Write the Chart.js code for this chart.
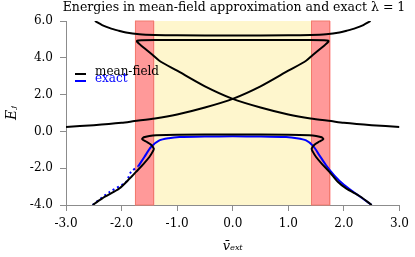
<!DOCTYPE html>
<html>
<head>
<meta charset="utf-8">
<script src="https://cdn.jsdelivr.net/npm/chart.js@4.4.1/dist/chart.umd.min.js"></script>
<style>
    html, body { margin: 0; padding: 0; background: #fff; }
    #wrap { width: 415px; height: 257px; }
</style>
</head>
<body>
<div id="wrap"><canvas id="energyChart" width="415" height="257"></canvas></div>
<script>
// axis ranges / ticks
const xRange = [-3, 3];
const yRange = [-4, 6];
const xStep = 1;
const yStep = 2;

// shaded regions (in v_ext units)
const redBands = [[-1.76, -1.41], [1.41, 1.76]];
const yellowBand = [-1.41, 1.41];

// mean-field: top outer branch
const mfTopX = [-2.48, -2.35, -2.21, -2.05, -1.92, -1.68, -1.4, -1.0, 0, 1.0, 1.4, 1.68, 1.92, 2.05, 2.21, 2.35, 2.48];
const mfTopY = [6.0, 5.78, 5.61, 5.47, 5.37, 5.28, 5.24, 5.22, 5.21, 5.22, 5.24, 5.28, 5.37, 5.47, 5.61, 5.78, 6.0];

// mean-field: crossing branch with the upper swallowtail loop
const mfCrossX = [-3.0, -2.5, -2.0, -1.77, -1.4, -1.0, -0.5, 0, 0.5, 1.0, 1.32, 1.44, 1.56, 1.66, 1.72, 1.72, 1.65, 1.4, 0, -1.4, -1.65, -1.72, -1.72, -1.66, -1.56, -1.44, -1.32, -1.0, -0.5, 0, 0.5, 1.0, 1.4, 1.77, 2.0, 2.5, 3.0];
const mfCrossY = [0.24, 0.34, 0.47, 0.56, 0.7, 0.92, 1.3, 1.77, 2.45, 3.3, 3.84, 4.15, 4.45, 4.7, 4.86, 4.93, 4.96, 4.97, 4.97, 4.97, 4.96, 4.93, 4.86, 4.7, 4.45, 4.15, 3.84, 3.3, 2.45, 1.77, 1.3, 0.92, 0.7, 0.56, 0.47, 0.34, 0.24];

// mean-field: lower branch with the two folds
const mfLowX = [-2.52, -2.3, -2.04, -1.85, -1.74, -1.6, -1.5, -1.44, -1.42, -1.47, -1.56, -1.63, -1.6, -1.5, -1.38, -1.0, 0, 1.0, 1.38, 1.5, 1.6, 1.63, 1.56, 1.47, 1.42, 1.44, 1.5, 1.6, 1.74, 1.89, 2.04, 2.3, 2.5];
const mfLowY = [-4.0, -3.55, -3.1, -2.55, -2.2, -1.75, -1.39, -1.1, -0.94, -0.72, -0.55, -0.42, -0.32, -0.25, -0.21, -0.18, -0.17, -0.18, -0.21, -0.25, -0.32, -0.42, -0.55, -0.72, -0.94, -1.1, -1.39, -1.75, -2.2, -2.74, -3.1, -3.55, -4.0];

// exact: solid part and the dotted stretch on the left
const exactX = [-1.7, -1.59, -1.47, -1.32, -1.15, -0.96, -0.5, 0, 0.5, 0.96, 1.15, 1.32, 1.45, 1.56, 1.68, 1.83, 2.0, 2.2, 2.5];
const exactY = [-1.9, -1.39, -0.85, -0.49, -0.37, -0.31, -0.28, -0.27, -0.28, -0.31, -0.37, -0.49, -0.8, -1.3, -1.84, -2.4, -2.9, -3.35, -4.0];
const exactDotX = [-2.52, -2.45, -2.21, -1.92, -1.83, -1.7];
const exactDotY = [-4.0, -3.82, -3.28, -2.75, -2.2, -1.9];

// legend entries
const legendLabels = ['mean-field', 'exact'];
const legendColors = ['#000000', '#0000ff'];

const titleText = 'Energies in mean-field approximation and exact \u03bb = 1';
const serif = '"DejaVu Serif", serif';

function toPoints(xs, ys) {
    return xs.map((x, i) => ({x: x, y: ys[i]}));
}

function lineSet(xs, ys, color, extra) {
    return Object.assign({
        data: toPoints(xs, ys),
        showLine: true,
        borderColor: color,
        backgroundColor: color,
        borderWidth: 2,
        pointRadius: 0,
        tension: 0.25,
        fill: false
    }, extra || {});
}

// shaded bands behind the curves
const bandsPlugin = {
    id: 'bands',
    beforeDatasetsDraw(chart) {
        const {ctx, chartArea, scales} = chart;
        const xs = scales.x;
        const h = chartArea.bottom - chartArea.top;
        ctx.save();
        ctx.fillStyle = '#fef6cd';
        const yl = xs.getPixelForValue(yellowBand[0]);
        const yr = xs.getPixelForValue(yellowBand[1]);
        ctx.fillRect(yl, chartArea.top, yr - yl, h);
        redBands.forEach(b => {
            const l = xs.getPixelForValue(b[0]);
            const r = xs.getPixelForValue(b[1]);
            ctx.fillStyle = '#ff9999';
            ctx.fillRect(l, chartArea.top, r - l, h);
            ctx.strokeStyle = '#f27a6e';
            ctx.lineWidth = 1;
            ctx.strokeRect(Math.round(l) + 0.5, chartArea.top, Math.round(r - l) - 1, h);
        });
        ctx.restore();
    }
};

// title and in-plot legend
const labelsPlugin = {
    id: 'labels',
    afterDraw(chart) {
        const {ctx, chartArea} = chart;
        ctx.save();
        ctx.font = '12.5px ' + serif;
        ctx.fillStyle = '#000';
        ctx.textAlign = 'center';
        ctx.textBaseline = 'middle';
        ctx.fillText(titleText, 234, 8);

        ctx.font = '12px ' + serif;
        ctx.textAlign = 'left';
        legendLabels.forEach((lab, i) => {
            const y = 74 + i * 7;
            ctx.strokeStyle = legendColors[i];
            ctx.lineWidth = 2;
            ctx.beginPath();
            ctx.moveTo(75, y);
            ctx.lineTo(86, y);
            ctx.stroke();
            ctx.fillStyle = legendColors[i];
            ctx.fillText(lab, 95, y - 2);
        });
        ctx.restore();
    }
};

const tickFont = {family: serif, size: 12};
const axisColor = '#8c8c8c';

new Chart(document.getElementById('energyChart').getContext('2d'), {
    type: 'scatter',
    data: {
        datasets: [
            lineSet(mfTopX, mfTopY, '#000000'),
            lineSet(mfCrossX, mfCrossY, '#000000'),
            lineSet(mfLowX, mfLowY, '#000000'),
            lineSet(exactX, exactY, '#0000ff'),
            lineSet(exactDotX, exactDotY, '#0000ff', {borderDash: [2, 3]})
        ]
    },
    options: {
        responsive: false,
        animation: false,
        layout: {padding: {top: 21, right: 9, left: 0, bottom: 0}},
        plugins: {
            legend: {display: false},
            tooltip: {enabled: false},
            title: {display: false}
        },
        scales: {
            x: {
                type: 'linear',
                min: xRange[0],
                max: xRange[1],
                afterFit: s => { s.height = 52; },
                border: {display: true, color: axisColor, width: 1},
                grid: {drawOnChartArea: false, drawTicks: true, tickLength: 6, color: axisColor},
                ticks: {
                    stepSize: xStep,
                    padding: 6,
                    color: '#000',
                    font: tickFont,
                    callback: v => v.toFixed(1)
                },
                title: {
                    display: true,
                    text: 'v\u0304\u2091\u2093\u209c',
                    color: '#000',
                    font: {family: serif, size: 13, style: 'italic'},
                    padding: {top: 0, bottom: 3}
                }
            },
            y: {
                type: 'linear',
                min: yRange[0],
                max: yRange[1],
                afterFit: s => { s.width = 66; },
                border: {display: true, color: axisColor, width: 1},
                grid: {drawOnChartArea: false, drawTicks: true, tickLength: 6, color: axisColor},
                ticks: {
                    stepSize: yStep,
                    padding: 7,
                    color: '#000',
                    font: tickFont,
                    callback: v => v.toFixed(1)
                },
                title: {
                    display: true,
                    text: 'E\u2c7c',
                    color: '#000',
                    font: {family: serif, size: 14, style: 'italic'},
                    padding: {top: 4, bottom: 0}
                }
            }
        }
    },
    plugins: [bandsPlugin, labelsPlugin]
});
</script>
</body>
</html>
